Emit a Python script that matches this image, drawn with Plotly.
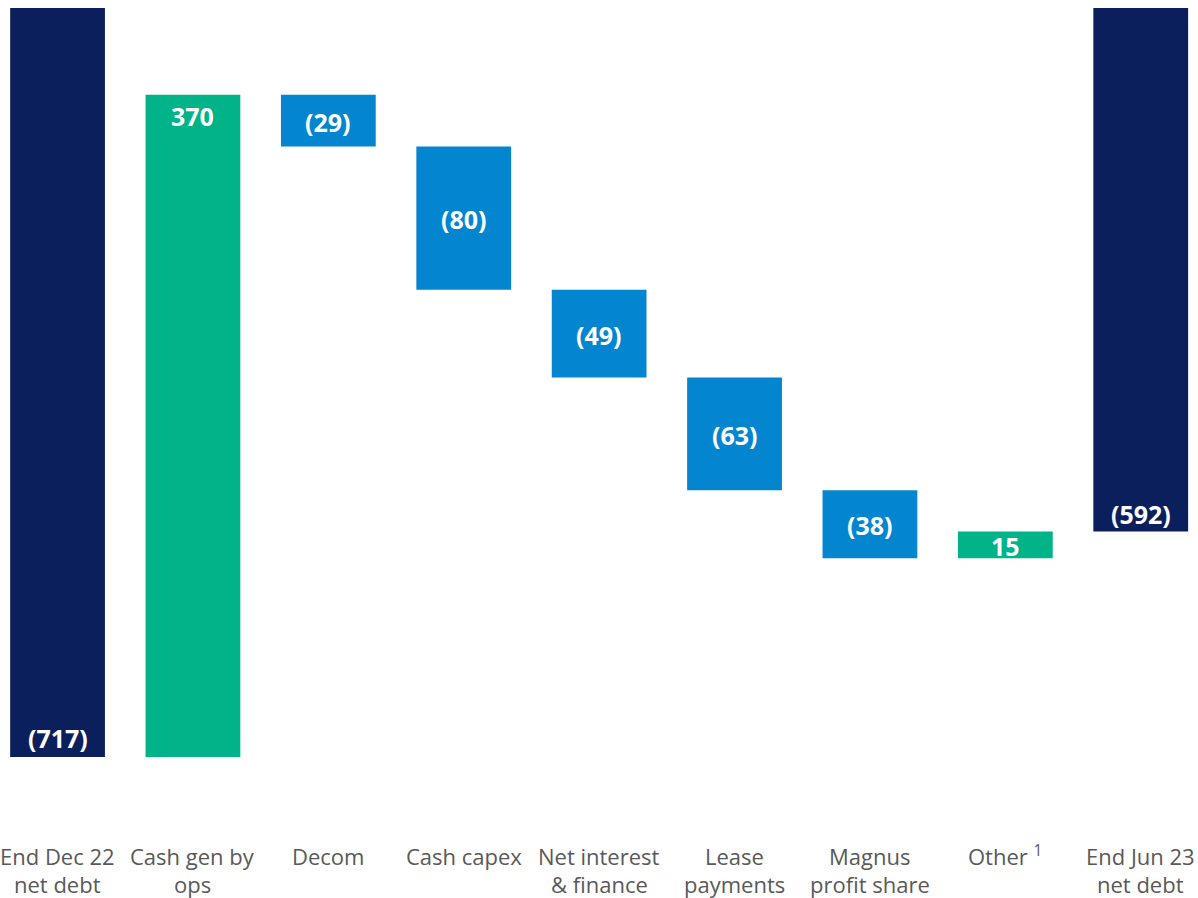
import plotly.graph_objects as go

categories = ["End Dec 22 net debt", "Cash gen by ops", "Decom", "Cash capex",
              "Net interest & finance", "Lease payments", "Magnus profit share",
              "Other", "End Jun 23 net debt"]
label_line1 = ["End Dec 22", "Cash gen by", "Decom", "Cash capex", "Net interest",
               "Lease", "Magnus", "Other <sup>1</sup>", "End Jun 23"]
label_line2 = ["net debt", "ops", "", "", "& finance", "payments", "profit share", "", "net debt"]
values = [-717, 370, -29, -80, -49, -63, -38, 15, -592]
measures = ["absolute", "relative", "relative", "relative", "relative",
            "relative", "relative", "relative", "total"]
value_labels = ["(717)", "370", "(29)", "(80)", "(49)", "(63)", "(38)", "15", "(592)"]

NAVY = "#0B1F5C"
GREEN = "#00B388"
BLUE = "#0386CF"
GREY = "#595959"
FONT = "Open Sans"

fig = go.Figure(go.Waterfall(
    x=categories,
    y=values,
    measure=measures,
    width=0.70,
    textposition="none",
    connector=dict(visible=False),
    increasing=dict(marker=dict(color=GREEN)),
    decreasing=dict(marker=dict(color=BLUE)),
    totals=dict(marker=dict(color=NAVY)),
    hoverinfo="x+y",
))

value_font = dict(family=FONT, size=25, color="white", weight="bold")

# value labels positioned from the running total
running = 0
for cat, v, m, t in zip(categories, values, measures, value_labels):
    if m == "absolute":
        running = v
        fig.add_annotation(x=cat, y=v, text=t, yanchor="bottom", yshift=0,
                           showarrow=False, font=value_font)
    elif m == "total":
        fig.add_annotation(x=cat, y=v, text=t, yanchor="bottom", yshift=0,
                           showarrow=False, font=value_font)
    else:
        start, end = running, running + v
        running = end
        if v > 0 and abs(v) > 100:
            fig.add_annotation(x=cat, y=end, text=t, yanchor="top", yshift=-2,
                               showarrow=False, font=value_font)
        else:
            fig.add_annotation(x=cat, y=(start + end) / 2, text=t, yanchor="middle",
                               yshift=-1, showarrow=False, font=value_font)

# category labels (two rows)
label_font = dict(family=FONT, size=22, color=GREY)
for cat, l1, l2 in zip(categories, label_line1, label_line2):
    fig.add_annotation(x=cat, xref="x", yref="paper", y=-0.0707, text=l1,
                       yanchor="middle", showarrow=False, font=label_font)
    if l2:
        fig.add_annotation(x=cat, xref="x", yref="paper", y=-0.1060, text=l2,
                           yanchor="middle", showarrow=False, font=label_font)

fig.update_layout(
    width=1198, height=898,
    margin=dict(l=0, r=0, t=8, b=98),
    plot_bgcolor="white", paper_bgcolor="white",
    showlegend=False,
    xaxis=dict(range=[-0.425, 8.423], showticklabels=False, showgrid=False,
               zeroline=False, showline=False, ticks=""),
    yaxis=dict(range=[-741.0, -298.6], visible=False, showgrid=False, zeroline=False),
    font=dict(family=FONT),
)

fig.write_html("out.html", config={"displayModeBar": False},
               post_script="document.body.style.margin='0';document.body.style.overflow='hidden';")
